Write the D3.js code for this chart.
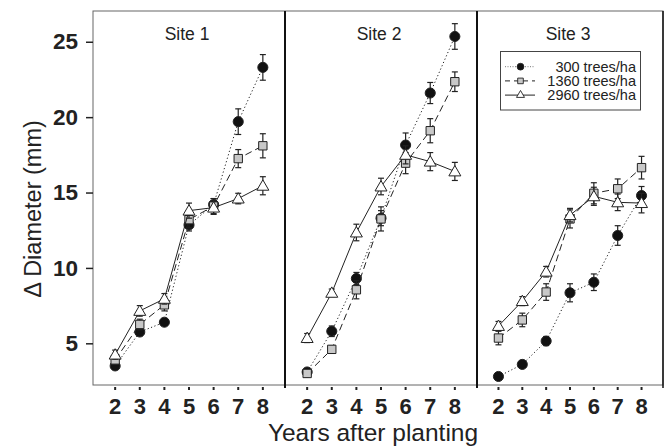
<!DOCTYPE html>
<html>
<head>
<meta charset="utf-8">
<script src="https://cdn.jsdelivr.net/npm/d3@7/dist/d3.min.js"></script>
<style>
  body { margin: 0; background: #fff; }
  svg { display: block; font-family: "Liberation Sans", Arial, sans-serif; }
</style>
</head>
<body>
<svg id="chart" width="665" height="448"></svg>
<script>
// Data
const years = [2, 3, 4, 5, 6, 7, 8];
const sites = ["Site 1", "Site 2", "Site 3"];
const densities = ["300 trees/ha", "1360 trees/ha", "2960 trees/ha"];
const yTicks = [5, 10, 15, 20, 25];

// mean diameter increment (mm), one array per site and density
const site1_300 = [3.5, 5.75, 6.4, 12.85, 14.2, 19.7, 23.3];
const site1_1360 = [3.9, 6.25, 7.55, 13.2, 14.1, 17.25, 18.1];
const site1_2960 = [4.25, 7.15, 7.95, 13.8, 14.0, 14.6, 15.45];
const site2_300 = [3.1, 5.8, 9.3, 13.3, 18.15, 21.6, 25.35];
const site2_1360 = [3.0, 4.6, 8.55, 13.25, 16.95, 19.1, 22.35];
const site2_2960 = [5.35, 8.35, 12.35, 15.4, 17.5, 17.05, 16.4];
const site3_300 = [2.8, 3.6, 5.15, 8.35, 9.05, 12.15, 14.8];
const site3_1360 = [5.35, 6.55, 8.4, 13.25, 14.95, 15.25, 16.65];
const site3_2960 = [6.15, 7.8, 9.75, 13.5, 14.75, 14.35, 14.3];

// standard errors
const site1_300_se = [0.2, 0.25, 0.2, 0.4, 0.4, 0.85, 0.85];
const site1_1360_se = [0.3, 0.35, 0.4, 0.55, 0.5, 0.6, 0.8];
const site1_2960_se = [0.3, 0.35, 0.35, 0.5, 0.45, 0.35, 0.6];
const site2_300_se = [0.15, 0.35, 0.4, 0.5, 0.8, 0.7, 0.85];
const site2_1360_se = [0.2, 0.25, 0.6, 0.8, 0.7, 0.8, 0.65];
const site2_2960_se = [0.3, 0.25, 0.55, 0.55, 0.6, 0.6, 0.6];
const site3_300_se = [0.1, 0.15, 0.3, 0.6, 0.55, 0.65, 0.6];
const site3_1360_se = [0.45, 0.45, 0.55, 0.6, 0.7, 0.65, 0.75];
const site3_2960_se = [0.3, 0.3, 0.35, 0.45, 0.6, 0.55, 0.65];

const means = [
  [site1_300, site1_1360, site1_2960],
  [site2_300, site2_1360, site2_2960],
  [site3_300, site3_1360, site3_2960]
];
const errors = [
  [site1_300_se, site1_1360_se, site1_2960_se],
  [site2_300_se, site2_1360_se, site2_2960_se],
  [site3_300_se, site3_1360_se, site3_2960_se]
];

const svg = d3.select("#chart");

// panel layout
const plotTop = 11, plotBottom = 385;
const panelEdges = [93, 285, 477, 663];

const yScale = d3.scaleLinear().domain([2.235, 27.04]).range([plotBottom, plotTop]);

// series styles: circle dotted, square dashed, triangle solid
const styles = [
  { dash: "1.2,2.4", shape: d3.symbolCircle, size: 80, fill: "#111" },
  { dash: "7,4", shape: d3.symbolSquare, size: 70, fill: "#c8c8c8" },
  { dash: null, shape: d3.symbolTriangle, size: 62, fill: "#fff" }
];

sites.forEach((site, p) => {
  const x0 = panelEdges[p], x1 = panelEdges[p + 1];
  const xScale = d3.scaleLinear().domain([1.1, 8.9]).range([x0, x1]);

  const g = svg.append("g");

  // x ticks
  g.selectAll(".xtick")
    .data(years)
    .join("line")
    .attr("x1", d => xScale(d)).attr("x2", d => xScale(d))
    .attr("y1", plotBottom + 2).attr("y2", plotBottom + 5)
    .attr("stroke", "#222").attr("stroke-width", 2);

  g.selectAll(".xlab")
    .data(years)
    .join("text")
    .attr("x", d => xScale(d))
    .attr("y", 414)
    .attr("text-anchor", "middle")
    .attr("font-size", 22)
    .attr("font-weight", "bold")
    .attr("fill", "#222")
    .text(d => d);

  // site title
  g.append("text")
    .attr("x", (x0 + x1) / 2 - 2)
    .attr("y", 39.5)
    .attr("text-anchor", "middle")
    .attr("font-size", 17.5)
    .attr("fill", "#222")
    .text(site);

  const line = d3.line()
    .x((d, i) => xScale(years[i]))
    .y(d => yScale(d));

  means[p].forEach((vals, s) => {
    const st = styles[s];
    const se = errors[p][s];
    const pts = vals.map((v, i) => ({ x: years[i], y: v, e: se[i] }));

    g.append("path")
      .datum(vals)
      .attr("d", line)
      .attr("fill", "none")
      .attr("stroke", "#222")
      .attr("stroke-width", 1)
      .attr("stroke-dasharray", st.dash);

    const eb = g.append("g").selectAll("g")
      .data(pts)
      .join("g")
      .attr("stroke", "#222")
      .attr("stroke-width", 1.2);

    eb.append("line")
      .attr("x1", d => xScale(d.x)).attr("x2", d => xScale(d.x))
      .attr("y1", d => yScale(d.y - d.e)).attr("y2", d => yScale(d.y + d.e));
    eb.append("line")
      .attr("x1", d => xScale(d.x) - 3).attr("x2", d => xScale(d.x) + 3)
      .attr("y1", d => yScale(d.y + d.e)).attr("y2", d => yScale(d.y + d.e));
    eb.append("line")
      .attr("x1", d => xScale(d.x) - 3).attr("x2", d => xScale(d.x) + 3)
      .attr("y1", d => yScale(d.y - d.e)).attr("y2", d => yScale(d.y - d.e));

    g.append("g").selectAll("path")
      .data(pts)
      .join("path")
      .attr("d", d3.symbol().type(st.shape).size(st.size))
      .attr("transform", d => `translate(${xScale(d.x)},${yScale(d.y) + (s === 2 ? 1 : 0)})`)
      .attr("fill", st.fill)
      .attr("stroke", "#222")
      .attr("stroke-width", 1);
  });
});

// frame
svg.append("rect")
  .attr("x", panelEdges[0]).attr("y", plotTop)
  .attr("width", panelEdges[3] - panelEdges[0])
  .attr("height", plotBottom - plotTop)
  .attr("fill", "none")
  .attr("stroke", "#666")
  .attr("stroke-width", 1);

// panel dividers and right edge
svg.selectAll(".divider")
  .data(panelEdges.slice(1))
  .join("line")
  .attr("x1", d => d).attr("x2", d => d)
  .attr("y1", plotTop).attr("y2", plotBottom + 3)
  .attr("stroke", "#111")
  .attr("stroke-width", (d, i) => i < 2 ? 2 : 1.5);

// y axis
const yAxis = svg.append("g")
  .attr("transform", `translate(${panelEdges[0]},0)`)
  .call(d3.axisLeft(yScale).tickValues(yTicks).tickSize(7).tickPadding(8));
yAxis.select(".domain").remove();
yAxis.selectAll(".tick line").attr("stroke", "#222").attr("stroke-width", 1.5);
yAxis.selectAll(".tick text")
  .attr("font-size", 22.5)
  .attr("font-weight", "bold")
  .attr("font-family", "Liberation Sans, Arial, sans-serif")
  .attr("fill", "#222");

// axis titles
svg.append("text")
  .attr("x", 373)
  .attr("y", 441)
  .attr("text-anchor", "middle")
  .attr("font-size", 24.5)
  .attr("fill", "#222")
  .text("Years after planting");

svg.append("text")
  .attr("transform", "translate(41,209) rotate(-90)")
  .attr("text-anchor", "middle")
  .attr("font-size", 23.5)
  .attr("fill", "#222")
  .text("\u0394 Diameter (mm)");

// legend
const legend = svg.append("g");
legend.append("rect")
  .attr("x", 500.5).attr("y", 51.5)
  .attr("width", 140).attr("height", 58.5)
  .attr("fill", "#fff")
  .attr("stroke", "#444")
  .attr("stroke-width", 1);

const legendRows = legend.selectAll(".row")
  .data(densities)
  .join("g")
  .attr("transform", (d, i) => `translate(0,${66.7 + i * 14.2})`);

legendRows.append("line")
  .attr("x1", 505).attr("x2", 535)
  .attr("y1", 0).attr("y2", 0)
  .attr("stroke", (d, i) => i === 0 ? "#777" : "#222")
  .attr("stroke-width", 1)
  .attr("stroke-dasharray", (d, i) => i === 0 ? "1,1.5" : i === 1 ? "5,4" : null);

legendRows.append("path")
  .attr("d", (d, i) => d3.symbol().type(styles[i].shape).size(styles[i].size * 0.45)())
  .attr("transform", "translate(520.5,0)")
  .attr("fill", (d, i) => styles[i].fill)
  .attr("stroke", "#222")
  .attr("stroke-width", 0.9);

legendRows.append("text")
  .attr("x", 636)
  .attr("y", 5)
  .attr("text-anchor", "end")
  .attr("font-size", 14.5)
  .attr("fill", "#222")
  .text(d => d);
</script>
</body>
</html>
